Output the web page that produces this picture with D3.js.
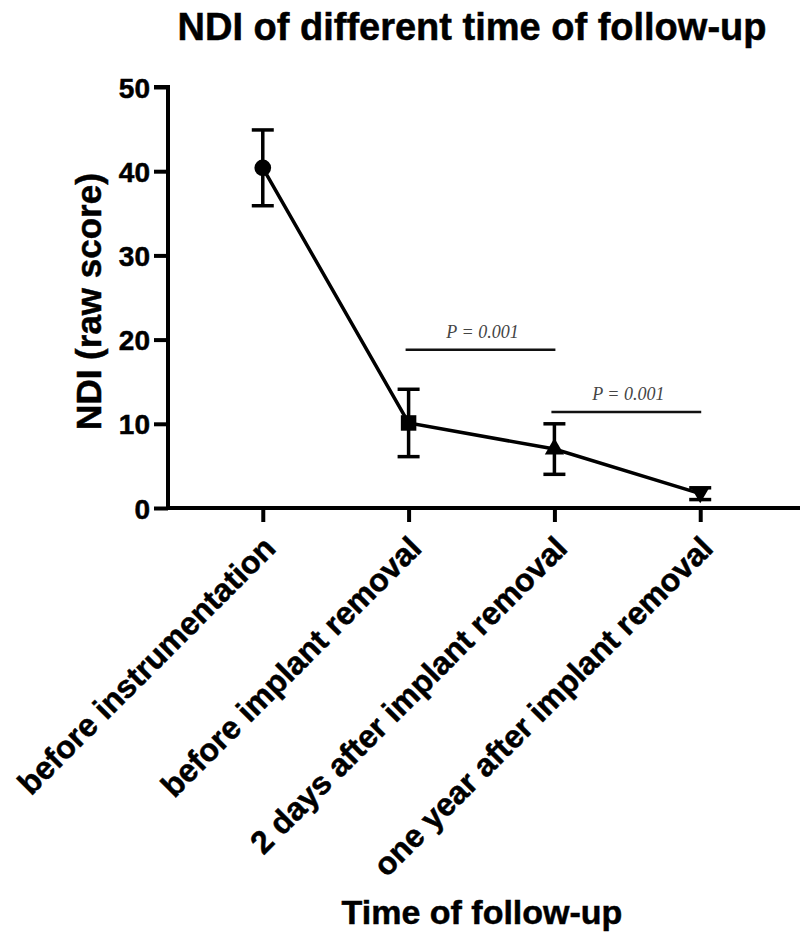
<!DOCTYPE html>
<html>
<head>
<meta charset="utf-8">
<script src="https://cdn.jsdelivr.net/npm/d3@7"></script>
<style>
  body { margin: 0; background: #fff; }
  text { font-family: "Liberation Sans", Arial, sans-serif; font-weight: bold; fill: #000; stroke: #000; stroke-width: 0.5px; }
  .axis path, .axis line { stroke: #000; stroke-width: 4; }
  .ptext { font-family: "Liberation Serif", "Times New Roman", serif; font-style: italic; font-weight: normal; fill: #444; stroke: none; }
</style>
</head>
<body>
<script>
var categories = ["before instrumentation", "before implant removal",
                  "2 days after implant removal", "one year after implant removal"];
var means = [40.4, 10.1, 7.0, 1.7];
var errors = [4.5, 4.0, 3.0, 0.7];
var symbols = ["circle", "square", "triangle", "down"];
var yTicks = [0, 10, 20, 30, 40, 50];
var brackets = [
    { from: 1, to: 2, value: 18.8, label: "P = 0.001" },
    { from: 2, to: 3, value: 11.4, label: "P = 0.001" }
];

var dim = { width: 800, height: 937, left: 168, right: 795, top: 87, bottom: 508 };

var svg = d3.select("body").append("svg")
        .attr("width", dim.width)
        .attr("height", dim.height);

var x = d3.scalePoint()
        .domain(categories)
        .range([dim.left, dim.right])
        .padding(0.65);

var y = d3.scaleLinear()
        .domain([0, 50])
        .range([dim.bottom, dim.top]);

// title
svg.append("text")
        .attr("x", 472)
        .attr("y", 40)
        .attr("text-anchor", "middle")
        .style("font-size", "38px")
        .text("NDI of different time of follow-up");

// y axis
var yAxis = d3.axisLeft(y).tickValues(yTicks).tickSize(14).tickPadding(4);
var gy = svg.append("g")
        .attr("class", "axis")
        .attr("transform", "translate(" + dim.left + ",0)")
        .call(yAxis);
gy.select(".domain").attr("d", "M" + (-14) + "," + y(50) + "H0V" + (y(0) + 2));
gy.selectAll("text").style("font-size", "28px").attr("dy", "0.36em");

svg.append("text")
        .attr("transform", "translate(101," + ((y(0) + y(50)) / 2 + 4) + ") rotate(-90)")
        .attr("text-anchor", "middle")
        .style("font-size", "35px")
        .text("NDI (raw score)");

// x axis
var xAxis = d3.axisBottom(x).tickSize(14).tickPadding(6).tickSizeOuter(0);
var gx = svg.append("g")
        .attr("class", "axis")
        .attr("transform", "translate(0," + dim.bottom + ")")
        .call(xAxis);
gx.select(".domain").attr("d", "M" + (dim.left - 2) + ",0H" + dim.width);
gx.selectAll("text")
        .style("font-size", "32px")
        .attr("text-anchor", "end")
        .attr("dy", "0")
        .attr("transform", "translate(0,28) rotate(-45)");

svg.append("text")
        .attr("x", 482)
        .attr("y", 924)
        .attr("text-anchor", "middle")
        .style("font-size", "34px")
        .text("Time of follow-up");

// significance brackets
var br = svg.append("g").attr("class", "brackets");
br.selectAll("line").data(brackets).enter().append("line")
        .attr("x1", function(d) { return x(categories[d.from]) - 3; })
        .attr("x2", function(d) { return x(categories[d.to]) + 1; })
        .attr("y1", function(d) { return y(d.value); })
        .attr("y2", function(d) { return y(d.value); })
        .attr("stroke", "#111")
        .attr("stroke-width", 2.5);
br.selectAll("text").data(brackets).enter().append("text")
        .attr("class", "ptext")
        .attr("x", function(d) { return (x(categories[d.from]) + x(categories[d.to])) / 2 + 1; })
        .attr("y", function(d) { return y(d.value) - 12; })
        .attr("text-anchor", "middle")
        .style("font-size", "18px")
        .text(function(d) { return d.label; });

var data = categories.map(function(c, i) {
    return { cat: c, mean: means[i], err: errors[i], sym: symbols[i] };
});

// connecting line
var line = d3.line()
        .x(function(d) { return x(d.cat); })
        .y(function(d) { return y(d.mean); });
svg.append("path")
        .datum(data)
        .attr("d", line)
        .attr("fill", "none")
        .attr("stroke", "#000")
        .attr("stroke-width", 3.5);

// error bars
var eb = svg.append("g").selectAll("g").data(data).enter().append("g")
        .attr("stroke", "#000")
        .attr("stroke-width", 3.5);
eb.append("line")
        .attr("x1", function(d) { return x(d.cat); })
        .attr("x2", function(d) { return x(d.cat); })
        .attr("y1", function(d) { return y(d.mean + d.err); })
        .attr("y2", function(d) { return y(d.mean - d.err); });
[1, -1].forEach(function(s) {
    eb.append("line")
        .attr("x1", function(d) { return x(d.cat) - 11; })
        .attr("x2", function(d) { return x(d.cat) + 11; })
        .attr("y1", function(d) { return y(d.mean + s * d.err); })
        .attr("y2", function(d) { return y(d.mean + s * d.err); });
});

// markers
var symType = { circle: d3.symbolCircle, square: d3.symbolSquare, triangle: d3.symbolTriangle, down: d3.symbolTriangle };
svg.append("g").selectAll("path").data(data).enter().append("path")
        .attr("transform", function(d) {
            return "translate(" + x(d.cat) + "," + y(d.mean) + ")" + (d.sym === "down" ? " rotate(180)" : "");
        })
        .attr("d", function(d) {
            var size = d.sym === "circle" ? 220 : d.sym === "square" ? 240 : d.sym === "down" ? 120 : 160;
            return d3.symbol().type(symType[d.sym]).size(size)();
        })
        .attr("fill", "#000");
</script>
</body>
</html>
